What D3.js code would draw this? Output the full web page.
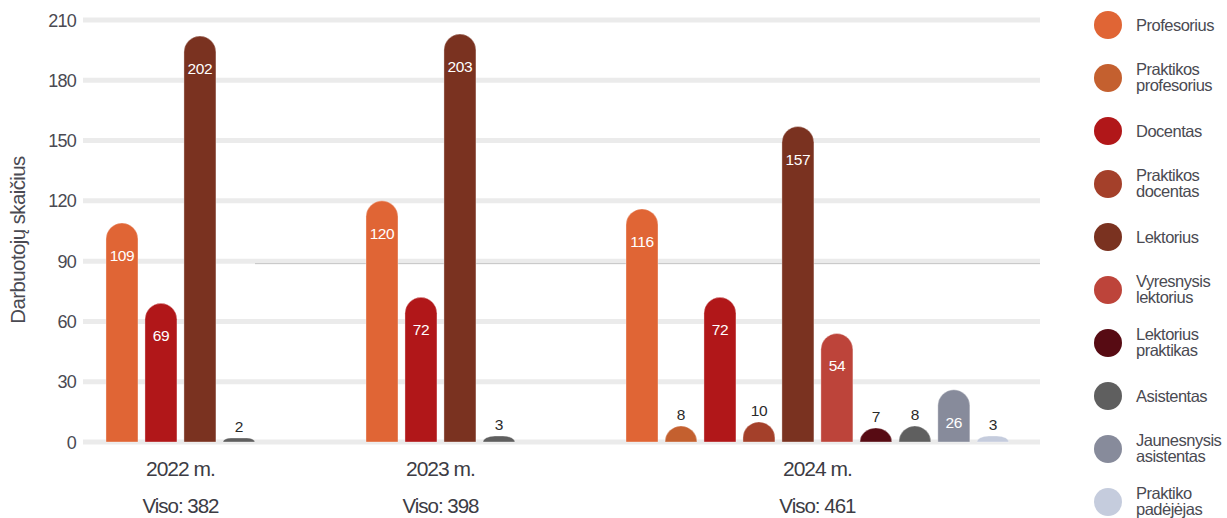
<!DOCTYPE html>
<html><head><meta charset="utf-8">
<script src="https://cdn.jsdelivr.net/npm/d3@7"></script>
<style>
html,body{margin:0;padding:0;background:#fff;}
svg text{font-family:"Liberation Sans",Arial,sans-serif;}
</style></head>
<body><svg id="chart" width="1227" height="518"></svg>
<script>
const years = ["2022 m.", "2023 m.", "2024 m."];
const totals = [382, 398, 461];
const categories = ["Profesorius","Praktikos profesorius","Docentas","Praktikos docentas","Lektorius","Vyresnysis lektorius","Lektorius praktikas","Asistentas","Jaunesnysis asistentas","Praktiko padėjėjas"];
const legendLines = [["Profesorius"],["Praktikos","profesorius"],["Docentas"],["Praktikos","docentas"],["Lektorius"],["Vyresnysis","lektorius"],["Lektorius","praktikas"],["Asistentas"],["Jaunesnysis","asistentas"],["Praktiko","padėjėjas"]];
const colors = ["#E06535","#C4602F","#B11719","#A4402A","#7A3220","#BD443A","#570B13","#5F5F5F","#878B9B","#C5CCDD"];
// values per year, null = category absent that year
const values2022 = [109, null, 69, null, 202, null, null, 2, null, null];
const values2023 = [120, null, 72, null, 203, null, null, 3, null, null];
const values2024 = [116, 8, 72, 10, 157, 54, 7, 8, 26, 3];
const yTicks = [0, 30, 60, 90, 120, 150, 180, 210];

const svg = d3.select("#chart");
const series = [values2022, values2023, values2024];

const GAP = 2.67;
let bars = [], groups = [], slot = 0;
series.forEach((vals, gi) => {
  const start = slot;
  vals.forEach((v, ci) => {
    if (v === null) return;
    bars.push({group: gi, cat: ci, value: v, slot: slot});
    slot += 1;
  });
  groups.push({label: years[gi], total: totals[gi], center: (start + slot - 1) / 2});
  slot += GAP;
});
const lastSlot = bars[bars.length - 1].slot;

const x = d3.scaleLinear().domain([-1, lastSlot + 1.21]).range([83, 1040]);
const y = d3.scaleLinear().domain([0, 210]).range([442, 20]);
const bw = 32, r = 16;
const textCol = "#4a4a52";

// gridlines
const grid = svg.append("g");
grid.selectAll("line.g").data(yTicks).join("line")
  .attr("x1", 83).attr("x2", 1040)
  .attr("y1", d => y(d)).attr("y2", d => y(d))
  .attr("stroke", "#ebebeb").attr("stroke-width", 5);
grid.append("line")
  .attr("x1", 255).attr("x2", 1040)
  .attr("y1", y(90) + 2.5).attr("y2", y(90) + 2.5)
  .attr("stroke", "#c4c4c4").attr("stroke-width", 1);

// y axis
const yAxis = d3.axisLeft(y).tickValues(yTicks).tickSize(0).tickPadding(0);
const ya = svg.append("g").attr("transform", "translate(76,0)").call(yAxis);
ya.select(".domain").remove();
ya.selectAll("text").attr("font-size", 18).attr("fill", textCol)
  .attr("font-family", "'Liberation Sans',Arial,sans-serif").attr("letter-spacing", -0.8)
  .attr("dy", "0.34em");

svg.append("text").attr("transform", "translate(25,240) rotate(-90)")
  .attr("text-anchor", "middle").attr("font-size", 20.5).attr("fill", textCol)
  .attr("letter-spacing", -0.6).text("Darbuotojų skaičius");

// bars
function barPath(d) {
  const cx = x(d.slot), x0 = cx - bw / 2, x1 = cx + bw / 2;
  const base = y(0), top = y(d.value), h = base - top;
  const ry = Math.min(r, h);
  const rx = Math.min(r, 2 * h);
  return `M${x0},${base} L${x0},${top + ry} A${rx},${ry} 0 0 1 ${x0 + rx},${top} L${x1 - rx},${top} A${rx},${ry} 0 0 1 ${x1},${top + ry} L${x1},${base} Z`;
}
svg.append("g").selectAll("path").data(bars).join("path")
  .attr("d", barPath)
  .attr("fill", d => colors[d.cat])
  .attr("stroke", "#fff").attr("stroke-opacity", 0.35).attr("stroke-width", 1);

// value labels
svg.append("g").selectAll("text").data(bars).join("text")
  .attr("x", d => x(d.slot))
  .attr("y", d => (y(0) - y(d.value)) > 40 ? y(d.value) + 38 : y(d.value) - 6)
  .attr("text-anchor", "middle").attr("font-size", 15.5)
  .attr("fill", d => (y(0) - y(d.value)) > 40 ? "#fff" : "#2a2a2a")
  .attr("letter-spacing", -0.4)
  .text(d => d.value);

// group labels
const gl = svg.append("g");
gl.selectAll("text.yr").data(groups).join("text").attr("class", "yr")
  .attr("x", d => x(d.center)).attr("y", 476)
  .attr("text-anchor", "middle").attr("font-size", 21).attr("fill", "#3c3c44")
  .attr("letter-spacing", -1).text(d => d.label);
gl.selectAll("text.tot").data(groups).join("text").attr("class", "tot")
  .attr("x", d => x(d.center)).attr("y", 513)
  .attr("text-anchor", "middle").attr("font-size", 20.5).attr("fill", "#3c3c44")
  .attr("letter-spacing", -1).text(d => "Viso: " + d.total);

// legend
const leg = svg.append("g").selectAll("g").data(categories).join("g")
  .attr("transform", (d, i) => `translate(1108,${25 + i * 53})`);
leg.append("circle").attr("r", 14).attr("fill", (d, i) => colors[i]);
leg.append("text").attr("x", 28).attr("font-size", 16.5).attr("fill", textCol)
  .attr("letter-spacing", -0.5)
  .each(function(d, i) {
    const lines = legendLines[i];
    const t = d3.select(this);
    const off = lines.length === 1 ? 6 : -3;
    lines.forEach((ln, k) => t.append("tspan").attr("x", 28).attr("y", off + k * 16).text(ln));
  });
</script>
</body></html>
